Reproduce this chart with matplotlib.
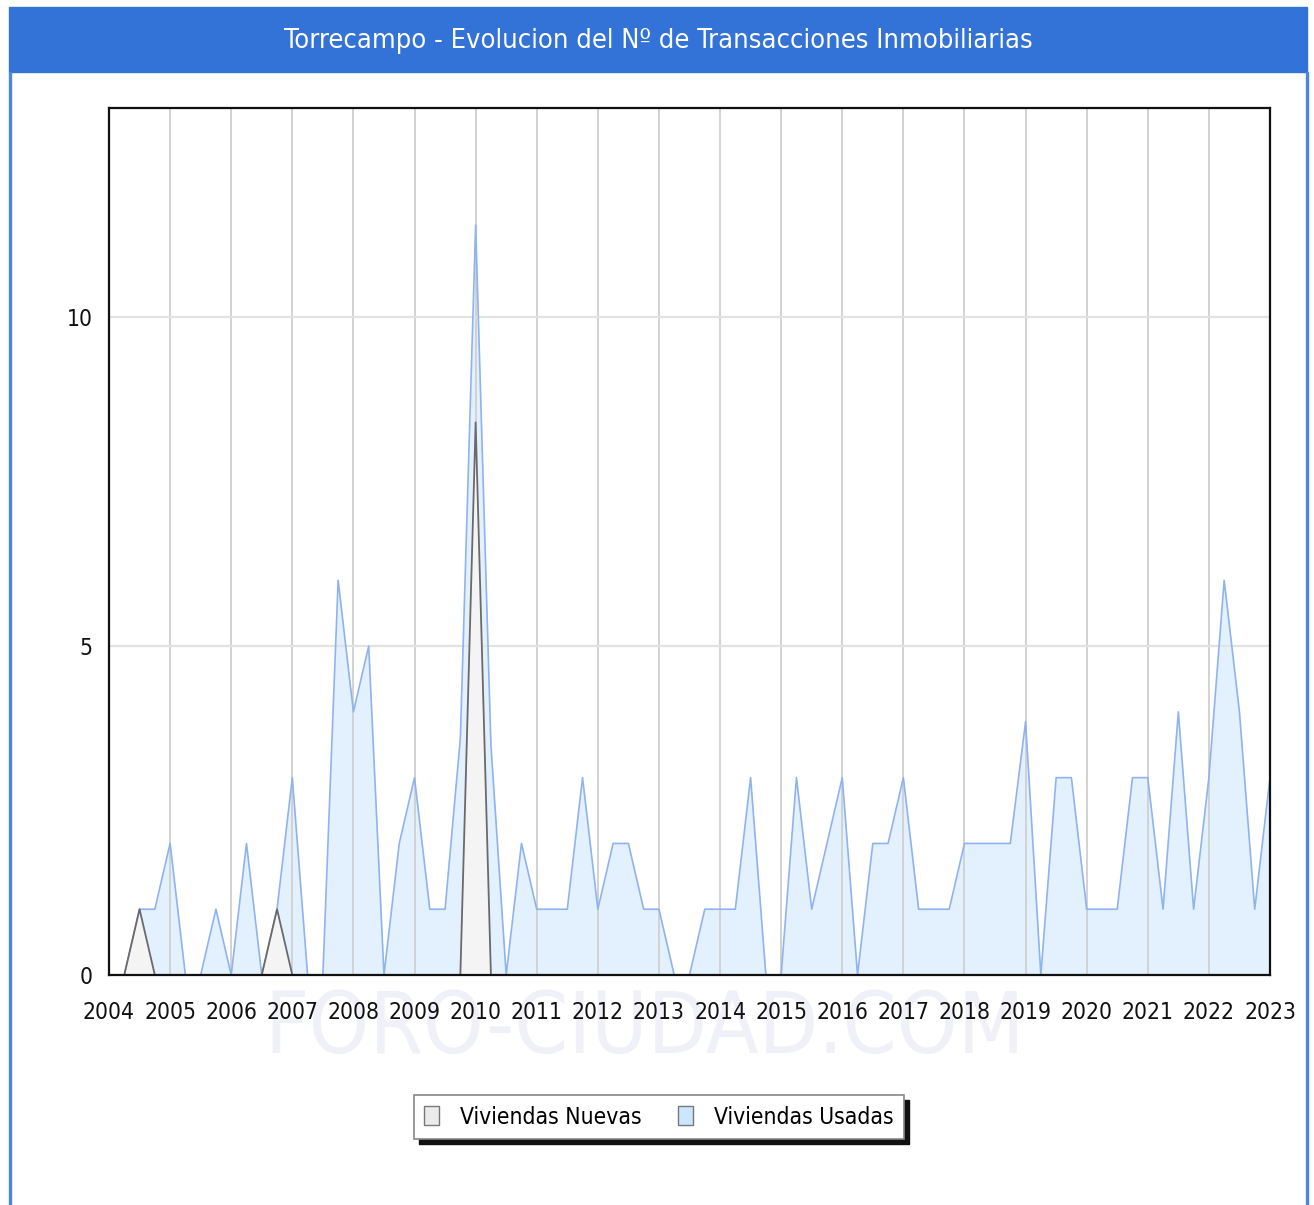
import matplotlib
matplotlib.use('Agg')
import matplotlib.pyplot as plt
from matplotlib.patches import Patch, Rectangle
from matplotlib.transforms import IdentityTransform

plt.rcParams['font.family'] = ['DejaVu Sans']
plt.rcParams['font.stretch'] = 'condensed'

TITLE = 'Torrecampo - Evolucion del Nº de Transacciones Inmobiliarias'
years = list(range(2004, 2024))

# quarterly values, 2004 Q1 .. 2023 Q1
nuevas = [0, 0, 1, 0, 0, 0, 0, 0, 0, 0, 0, 1, 0, 0, 0, 0,
          0, 0, 0, 0, 0, 0, 0, 0, 8.4, 0, 0, 0, 0, 0, 0, 0,
          0, 0, 0, 0, 0, 0, 0, 0, 0, 0, 0, 0, 0, 0, 0, 0,
          0, 0, 0, 0, 0, 0, 0, 0, 0, 0, 0, 0, 0, 0, 0, 0,
          0, 0, 0, 0, 0, 0, 0, 0, 0, 0, 0, 0, 0]
usadas = [0, 0, 1, 1, 2, 0, 0, 1, 0, 2, 0, 1, 3, 0, 0, 6,
          4, 5, 0, 2, 3, 1, 1, 3.6, 11.4, 3.5, 0, 2, 1, 1, 1, 3,
          1, 2, 2, 1, 1, 0, 0, 1, 1, 1, 3, 0, 0, 3, 1, 2,
          3, 0, 2, 2, 3, 1, 1, 1, 2, 2, 2, 2, 3.85, 0, 3, 3,
          1, 1, 1, 3, 3, 1, 4, 1, 3, 6, 4, 1, 3]

W, H = 1314, 1205
fig = plt.figure(figsize=(W / 100, H / 100), dpi=100)
fig.patch.set_facecolor('white')
renderer = fig.canvas.get_renderer()


def fit_size(s, target_px):
    # font size that gives the text the wanted width in pixels
    t = fig.text(0, 0, s, fontsize=10)
    w = t.get_window_extent(renderer).width
    t.remove()
    return 10 * target_px / w


title_size = fit_size(TITLE, 749)
tick_size = fit_size('2004', 52)
legend_size = fit_size('Viviendas Nuevas', 182)
mark_size = fit_size('FORO-CIUDAD.COM', 760)

# title bar and side borders
fig.patches.append(Rectangle((9 / W, 1 - 72 / H), 1298 / W, 65 / H,
                             transform=fig.transFigure, color='#3372d6', zorder=-2))
fig.patches.append(Rectangle((9 / W, 0), 2 / W, 1 - 72 / H,
                             transform=fig.transFigure, color='#4d86e0', zorder=-2))
fig.patches.append(Rectangle((1306 / W, 0), 2 / W, 1 - 72 / H,
                             transform=fig.transFigure, color='#4d86e0', zorder=-2))
fig.text(658 / W, 1 - 41 / H, TITLE, color='white', fontsize=title_size,
         ha='center', va='center')

# watermark
fig.text(645 / W, 1 - 1030 / H, 'FORO-CIUDAD.COM', color='#f0f0f8', fontsize=mark_size,
         ha='center', va='center', zorder=-2)

ax = fig.add_axes([109 / W, 1 - 975 / H, (1270 - 109) / W, (975 - 108) / H])
ax.patch.set_alpha(0)
x = list(range(len(usadas)))

ax.fill_between(x, usadas, 0, color='#e3f0fd', lw=0, zorder=1)
ax.plot(x, usadas, color='#8fb3ee', lw=1.2, zorder=3)
ax.fill_between(x, nuevas, 0, color='#f4f4f4', lw=0, zorder=3.1)
ax.plot(x, nuevas, color='#6a6a6a', lw=1.3, zorder=3.2)

ax.set_xlim(0, len(usadas) - 1)
ax.set_ylim(0, 13.18)
ax.set_xticks(list(range(0, len(usadas), 4)))
ax.set_xticklabels([str(y) for y in years])
ax.set_yticks([0, 5, 10])
ax.set_axisbelow(False)
ax.grid(True, axis='x', color='#cfcfcf', lw=1.3)
ax.grid(True, axis='y', color='#e2e2e2', lw=1.6)
ax.tick_params(axis='both', length=0, labelsize=tick_size, colors='#111111')
ax.tick_params(axis='x', pad=19)
ax.tick_params(axis='y', pad=12)
for s in ax.spines.values():
    s.set_linewidth(1.6)
    s.set_color('#111111')
    s.set_zorder(5)

handles = [Patch(facecolor='#ebebeb', edgecolor='#777777', label='Viviendas Nuevas'),
           Patch(facecolor='#cce6ff', edgecolor='#777777', label='Viviendas Usadas')]
lpx = legend_size * 100 / 72
leg = ax.legend(handles=handles, loc='center', ncol=2,
                bbox_to_anchor=(659 / W, 1 - 1117 / H), bbox_transform=fig.transFigure,
                fontsize=legend_size, frameon=True, fancybox=False, edgecolor='#888888',
                framealpha=1, handlelength=15 / lpx, handleheight=21 / lpx,
                handletextpad=21 / lpx, columnspacing=36 / lpx,
                borderpad=0.45, borderaxespad=0)
leg.get_frame().set_linewidth(1.2)

fig.canvas.draw()
bb = leg.get_window_extent()
fig.patches.append(Rectangle((bb.x0 + 5, bb.y0 - 5), bb.width, bb.height,
                             transform=IdentityTransform(), color='#111111', zorder=-1))

fig.savefig('out.png', dpi=100)
